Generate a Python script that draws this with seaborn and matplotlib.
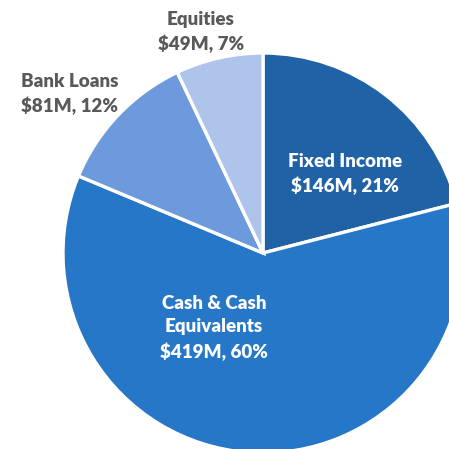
import matplotlib
matplotlib.use("Agg")
from matplotlib import pyplot as plt
import seaborn as sns

# values in $M, slices clockwise from 12 o'clock
categories = ["Fixed Income", "Cash & Cash\nEquivalents", "Bank Loans", "Equities"]
amounts = [146, 419, 81, 49]
percents = [21, 60, 12, 7]
colors = ["#2062A6", "#2677C7", "#6D9ADC", "#AFC4EA"]

sns.set_style("white")
plt.rcParams["font.family"] = ["Lato", "DejaVu Sans"]

fig = plt.figure(figsize=(4.49, 4.49), dpi=100)
ax = fig.add_axes([0, 0, 1, 1])

ax.pie(amounts, colors=colors, startangle=90, counterclock=False, radius=1,
       wedgeprops={"edgecolor": "white", "linewidth": 2.4})

labels = [f"{c}\n${a}M, {p}%" for c, a, p in zip(categories, amounts, percents)]
label_pos = [(0.41, 0.395), (-0.245, -0.375), (-0.965, 0.795), (-0.31, 1.105)]
text_colors = ["white", "white", "#595959", "#595959"]
for lab, (x, y), tc in zip(labels, label_pos, text_colors):
    ax.text(x, y, lab, ha="center", va="center", fontsize=13.5, weight="heavy",
            color=tc, linespacing=1.45)

ax.set_xlim(-1.315, 0.93)
ax.set_ylim(-0.98, 1.265)
ax.set_aspect("equal")
ax.axis("off")

plt.savefig("out.png", dpi=100)
